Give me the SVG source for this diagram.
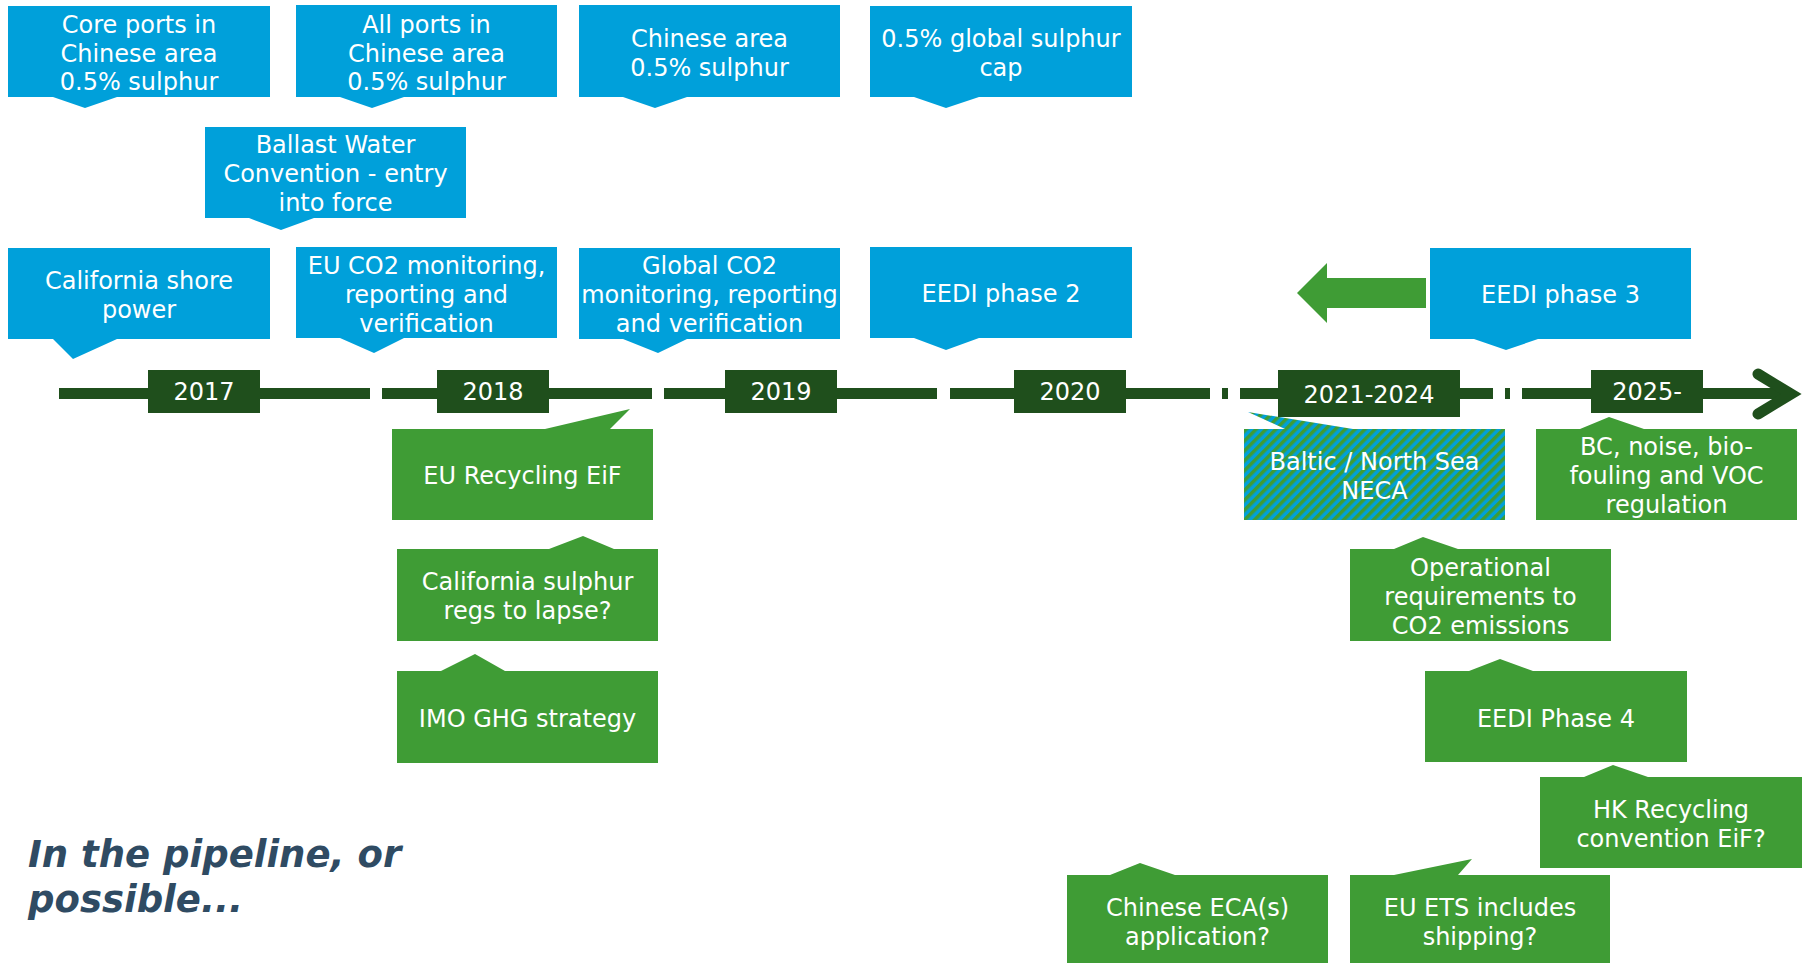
<svg xmlns="http://www.w3.org/2000/svg" width="1808" height="963" viewBox="0 0 1808 963">
<style>
.blue{fill:#00A0DA}
.green{fill:#3F9C35}
.dark{fill:#1F4F1C}
.t{font-family:"DejaVu Sans","Verdana",sans-serif;font-size:24px;fill:#FFFFFF;text-anchor:middle}
.tl{stroke:#1F4F1C;stroke-width:11;fill:none}
.note{font-family:"DejaVu Sans","Verdana",sans-serif;font-size:37px;font-weight:bold;font-style:italic;fill:#2F4B63}
</style>
<defs>
<pattern id="hatch" width="7" height="7" patternUnits="userSpaceOnUse" patternTransform="rotate(45)">
<rect x="0" y="0" width="7" height="7" fill="#00A0DA"/>
<rect x="0" y="0" width="3.5" height="7" fill="#3F9C35"/>
</pattern>
</defs>
<rect width="1808" height="963" fill="#FFFFFF"/>

<g id="timeline">
<line class="tl" x1="59" y1="393.5" x2="370" y2="393.5"/>
<line class="tl" x1="382" y1="393.5" x2="652" y2="393.5"/>
<line class="tl" x1="664" y1="393.5" x2="937" y2="393.5"/>
<line class="tl" x1="950" y1="393.5" x2="1210" y2="393.5"/>
<line class="tl" x1="1222" y1="393.5" x2="1228" y2="393.5"/>
<line class="tl" x1="1240" y1="393.5" x2="1493" y2="393.5"/>
<line class="tl" x1="1505" y1="393.5" x2="1510" y2="393.5"/>
<line class="tl" x1="1522" y1="393.5" x2="1792" y2="393.5"/>
<polyline class="tl" points="1758,374 1791,394 1758,414" stroke-linecap="round" stroke-linejoin="miter"/>
</g>

<g id="connectors">
<polygon class="green" points="1297,293 1327,263 1327,278 1426,278 1426,308 1327,308 1327,323"/>
</g>

<g id="n-core">
<polygon class="blue" points="8,6 270,6 270,97 117,97 85,108 53,97 8,97"/>
<text class="t" x="139" y="33">Core ports in</text>
<text class="t" x="139" y="61.5">Chinese area</text>
<text class="t" x="139" y="90">0.5% sulphur</text>
</g>
<g id="n-allports">
<polygon class="blue" points="296,5 557,5 557,97 404,97 372,108 340,97 296,97"/>
<text class="t" x="426.5" y="33">All ports in</text>
<text class="t" x="426.5" y="61.5">Chinese area</text>
<text class="t" x="426.5" y="90">0.5% sulphur</text>
</g>
<g id="n-chinese">
<polygon class="blue" points="579,5 840,5 840,97 687,97 655,108 623,97 579,97"/>
<text class="t" x="709.5" y="47">Chinese area</text>
<text class="t" x="709.5" y="76">0.5% sulphur</text>
</g>
<g id="n-globalcap">
<polygon class="blue" points="870,6 1132,6 1132,97 979,97 946,108 914,97 870,97"/>
<text class="t" x="1001" y="47">0.5% global sulphur</text>
<text class="t" x="1001" y="76">cap</text>
</g>
<g id="n-ballast">
<polygon class="blue" points="205,127 466,127 466,218 314,218 281,230 249,218 205,218"/>
<text class="t" x="335.5" y="153">Ballast Water</text>
<text class="t" x="335.5" y="182">Convention - entry</text>
<text class="t" x="335.5" y="211">into force</text>
</g>
<g id="n-shore">
<polygon class="blue" points="8,248 270,248 270,339 117,339 73,359 53,339 8,339"/>
<text class="t" x="139" y="289">California shore</text>
<text class="t" x="139" y="318">power</text>
</g>
<g id="n-euco2">
<polygon class="blue" points="296,247 557,247 557,338 404,338 374,353 340,338 296,338"/>
<text class="t" x="426.5" y="274">EU CO2 monitoring,</text>
<text class="t" x="426.5" y="303">reporting and</text>
<text class="t" x="426.5" y="332">verification</text>
</g>
<g id="n-globalco2">
<polygon class="blue" points="579,248 840,248 840,339 687,339 658,353 623,339 579,339"/>
<text class="t" x="709.5" y="274">Global CO2</text>
<text class="t" x="709.5" y="303">monitoring, reporting</text>
<text class="t" x="709.5" y="332">and verification</text>
</g>
<g id="n-eedi2">
<polygon class="blue" points="870,247 1132,247 1132,338 979,338 946,350 914,338 870,338"/>
<text class="t" x="1001" y="302">EEDI phase 2</text>
</g>
<g id="n-eedi3">
<polygon class="blue" points="1430,248 1691,248 1691,339 1538,339 1506,350 1474,339 1430,339"/>
<text class="t" x="1560.5" y="303">EEDI phase 3</text>
</g>

<g id="n-eurecycling">
<polygon class="green" points="392,429 545,429 630,409 610,429 653,429 653,520 392,520"/>
<text class="t" x="522.5" y="484">EU Recycling EiF</text>
</g>
<g id="n-calsulphur">
<polygon class="green" points="397,549 549,549 583,536 614,549 658,549 658,641 397,641"/>
<text class="t" x="527.5" y="590">California sulphur</text>
<text class="t" x="527.5" y="619">regs to lapse?</text>
</g>
<g id="n-imo">
<polygon class="green" points="397,671 441,671 475,654 505,671 658,671 658,763 397,763"/>
<text class="t" x="527.5" y="727">IMO GHG strategy</text>
</g>
<g id="n-baltic">
<polygon fill="url(#hatch)" points="1244,429 1285,429 1248,412 1353,429 1505,429 1505,520 1244,520"/>
<text class="t" x="1374.5" y="470">Baltic / North Sea</text>
<text class="t" x="1374.5" y="499">NECA</text>
</g>
<g id="n-bc">
<polygon class="green" points="1536,429 1580,429 1609,417 1644,429 1797,429 1797,520 1536,520"/>
<text class="t" x="1666.5" y="455">BC, noise, bio-</text>
<text class="t" x="1666.5" y="484">fouling and VOC</text>
<text class="t" x="1666.5" y="513">regulation</text>
</g>
<g id="n-operational">
<polygon class="green" points="1350,549 1394,549 1423,537 1458,549 1611,549 1611,641 1350,641"/>
<text class="t" x="1480.5" y="576">Operational</text>
<text class="t" x="1480.5" y="605">requirements to</text>
<text class="t" x="1480.5" y="634">CO2 emissions</text>
</g>
<g id="n-eedi4">
<polygon class="green" points="1425,671 1469,671 1500,659 1533,671 1687,671 1687,762 1425,762"/>
<text class="t" x="1556" y="727">EEDI Phase 4</text>
</g>
<g id="n-hk">
<polygon class="green" points="1540,777 1584,777 1613,765 1648,777 1802,777 1802,868 1540,868"/>
<text class="t" x="1671" y="818">HK Recycling</text>
<text class="t" x="1671" y="847">convention EiF?</text>
</g>
<g id="n-chineseeca">
<polygon class="green" points="1067,875 1110,875 1140,863 1175,875 1328,875 1328,963 1067,963"/>
<text class="t" x="1197.5" y="916">Chinese ECA(s)</text>
<text class="t" x="1197.5" y="945">application?</text>
</g>
<g id="n-euets">
<polygon class="green" points="1350,875 1394,875 1472,859 1458,875 1610,875 1610,963 1350,963"/>
<text class="t" x="1480" y="916">EU ETS includes</text>
<text class="t" x="1480" y="945">shipping?</text>
</g>

<g id="years">
<g id="y2017"><rect class="dark" x="148" y="370" width="112" height="43"/><text class="t" x="204" y="400">2017</text></g>
<g id="y2018"><rect class="dark" x="437" y="370" width="112" height="43"/><text class="t" x="493" y="400">2018</text></g>
<g id="y2019"><rect class="dark" x="725" y="370" width="112" height="43"/><text class="t" x="781" y="400">2019</text></g>
<g id="y2020"><rect class="dark" x="1014" y="370" width="112" height="43"/><text class="t" x="1070" y="400">2020</text></g>
<g id="y2021"><rect class="dark" x="1278" y="370" width="182" height="47"/><text class="t" x="1369" y="403">2021-2024</text></g>
<g id="y2025"><rect class="dark" x="1591" y="370" width="112" height="43"/><text class="t" x="1647" y="400">2025-</text></g>
</g>

<g id="note">
<text class="note" x="28" y="867">In the pipeline, or</text>
<text class="note" x="28" y="912">possible...</text>
</g>
</svg>
